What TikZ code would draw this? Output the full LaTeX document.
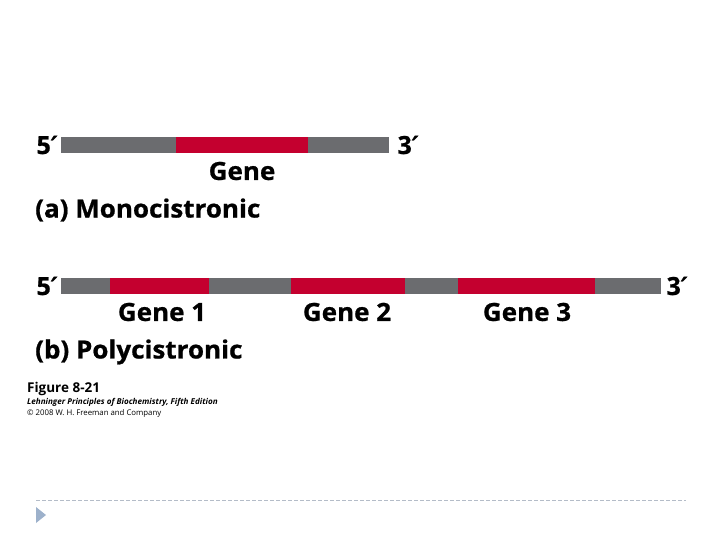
\documentclass[tikz,border=0pt]{standalone}
\usepackage{fontspec}
\setmainfont{Open Sans}
\newfontfamily\primefont{DejaVu Sans}
\definecolor{bargray}{HTML}{6B6C6F}
\definecolor{genered}{HTML}{C4002F}
\definecolor{dashcol}{HTML}{B4BCC8}
\definecolor{tricol}{HTML}{9DB1CB}
\newcommand{\pr}{{\primefont\itshape\addfontfeature{FakeBold=1}′}}
\tikzset{
  lbl/.style={font=\bfseries\fontsize{25}{27}\selectfont\addfontfeature{FakeStretch=1.04,FakeBold=0.8}, inner sep=0pt},
  endlbl/.style={font=\bfseries\fontsize{25}{27}\selectfont\addfontfeature{FakeBold=0.8}, inner sep=0pt},
  seggray/.style={fill=bargray},
  segred/.style={fill=genered},
}
\begin{document}
\begin{tikzpicture}[x=1pt,y=-1pt]
\useasboundingbox (0,0) rectangle (720,540);
% (a) monocistronic
\fill[seggray] (61,137) rectangle (389,153);
\fill[segred] (176,137) rectangle (308,153);
\node[endlbl] (a5) at (47,145) {5\pr};
\node[endlbl] (a3) at (408,145) {3\pr};
\node[lbl] (agene) at (242,171) {Gene};
\node[lbl, anchor=west] (acap) at (35,210) {(a) Monocistronic};
% (b) polycistronic
\fill[seggray] (61,278) rectangle (661,294);
\fill[segred] (110,278) rectangle (209,294);
\fill[segred] (291,278) rectangle (405,294);
\fill[segred] (458,278) rectangle (595,294);
\node[endlbl] (b5) at (47,286) {5\pr};
\node[endlbl] (b3) at (677,286) {3\pr};
\node[lbl] (g1) at (162,312) {Gene 1};
\node[lbl] (g2) at (347,312) {Gene 2};
\node[lbl] (g3) at (527,312) {Gene 3};
\node[lbl, anchor=west] (bcap) at (35,352) {(b) Polycistronic};
% figure credit
\node[anchor=west, inner sep=0pt, font=\bfseries\fontsize{13.5}{14}\selectfont] (fig) at (27,389) {Figure 8-21};
\node[anchor=west, inner sep=0pt, font=\bfseries\itshape\fontsize{8.1}{9}\selectfont] (book) at (27,402) {Lehninger Principles of Biochemistry, Fifth Edition};
\node[anchor=west, inner sep=0pt, font=\fontsize{7.8}{9}\selectfont] (copy) at (27,413) {© 2008 W. H. Freeman and Company};
% footer
\draw[dashcol, dashed, dash pattern=on 4pt off 2pt, line width=0.8pt] (36,500) -- (686,500);
\fill[tricol] (36,507) -- (46,515) -- (36,523) -- cycle;
\end{tikzpicture}
\end{document}
